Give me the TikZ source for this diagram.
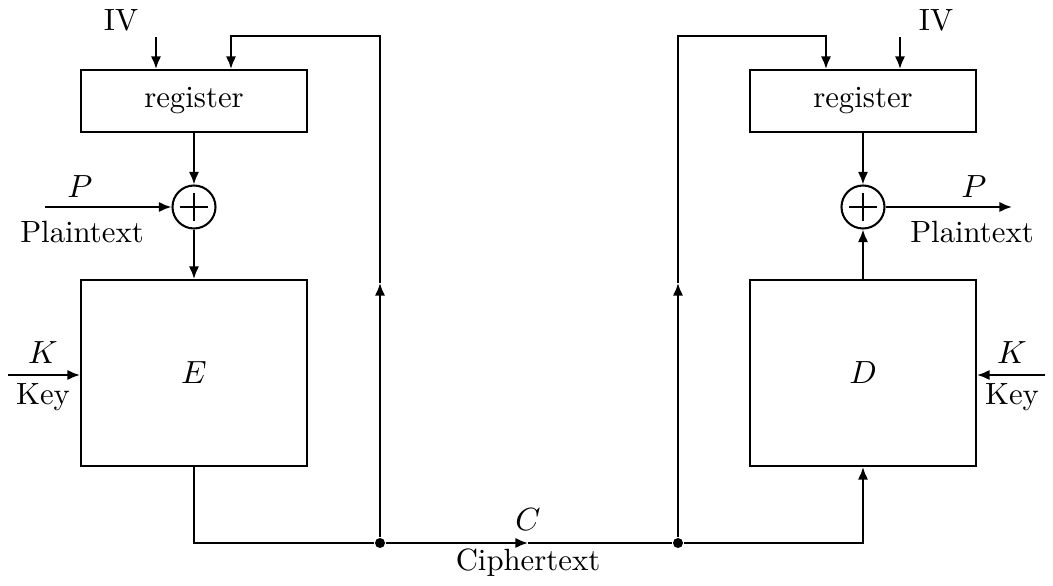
\documentclass[tikz,border=0pt]{standalone}
\usetikzlibrary{arrows.meta,calc}
\begin{document}
\begin{tikzpicture}[
  x=0.12mm, y=-0.12mm,
  font=\fontsize{10.5}{12.6}\selectfont,
  >={Latex[length=4.3pt,width=3.5pt]},
  line width=0.7pt,
  box/.style={rectangle, draw=black, inner sep=0pt, minimum width=2.712cm},
  xor/.style={circle, draw=black, inner sep=0pt, minimum size=5.16mm,
    path picture={\draw (path picture bounding box.center) ++(-1.7mm,0) -- ++(3.4mm,0)
      (path picture bounding box.center) ++(0,-1.7mm) -- ++(0,3.4mm);}},
  dot/.style={circle, fill=black, inner sep=0pt, minimum size=1.2mm}]

\useasboundingbox (0,0) rectangle (1053,586);

% encryption side
\node[box, minimum height=0.744cm] (regL) at (194,101) {register};
\node[xor] (xorL) at (194,207) {};
\node[box, minimum height=2.232cm] (encE) at (194,373) {$E$};

% decryption side
\node[box, minimum height=0.744cm] (regR) at (863,101) {register};
\node[xor] (xorR) at (863,207) {};
\node[box, minimum height=2.232cm] (decD) at (863,373) {$D$};

% junctions
\node[dot] (j1) at (380,543) {};
\node[dot] (j2) at (678,543) {};
\coordinate (cmid) at (528,543);
\coordinate (v1) at (380,283);
\coordinate (v2) at (678,283);
\coordinate (fbL) at (231,36);
\coordinate (fbR) at (826,36);
\coordinate (ivL) at (156,37);
\coordinate (ivR) at (900,37);
\coordinate (pL) at (45,207);
\coordinate (pR) at (1012,207);
\coordinate (kL) at (8,375);
\coordinate (kR) at (1045,375);

% labels
\node (livL) at (121,20) {IV};
\node (livR) at (936,20) {IV};
\node (lpL) at (80,187) {$P$};
\node (ltL) at (82,232) {Plaintext};
\node (lpR) at (974,187) {$P$};
\node (ltR) at (972,232) {Plaintext};
\node (lkL) at (43,353) {$K$};
\node (lyL) at (43,397) {Key};
\node (lkR) at (1012,353) {$K$};
\node (lyR) at (1012,397) {Key};
\node (lc) at (528,520) {$C$};
\node (lct) at (528,563) {Ciphertext};

\draw [->] (ivL) -- (ivL |- regL.north);
\draw [->] (ivR) -- (ivR |- regR.north);
\draw [->] (regL) -- (xorL);
\draw [->] (pL) -- (xorL);
\draw [->] (xorL) -- (encE);
\draw [->] (kL) -- (kL -| encE.west);
\draw [->] (regR) -- (xorR);
\draw [->] (decD) -- (xorR);
\draw [->] (xorR) -- (pR);
\draw [->] (kR) -- (kR -| decD.east);

\draw (encE.south) |- (j1);
\draw [->] (j1) -- (cmid);
\draw (cmid) -- (j2);
\draw [->] (j2) -| (decD.south);

\draw [->] (j1) -- (v1);
\draw [->] (v1) |- (fbL) -- (fbL |- regL.north);
\draw [->] (j2) -- (v2);
\draw [->] (v2) |- (fbR) -- (fbR |- regR.north);

\end{tikzpicture}
\end{document}
